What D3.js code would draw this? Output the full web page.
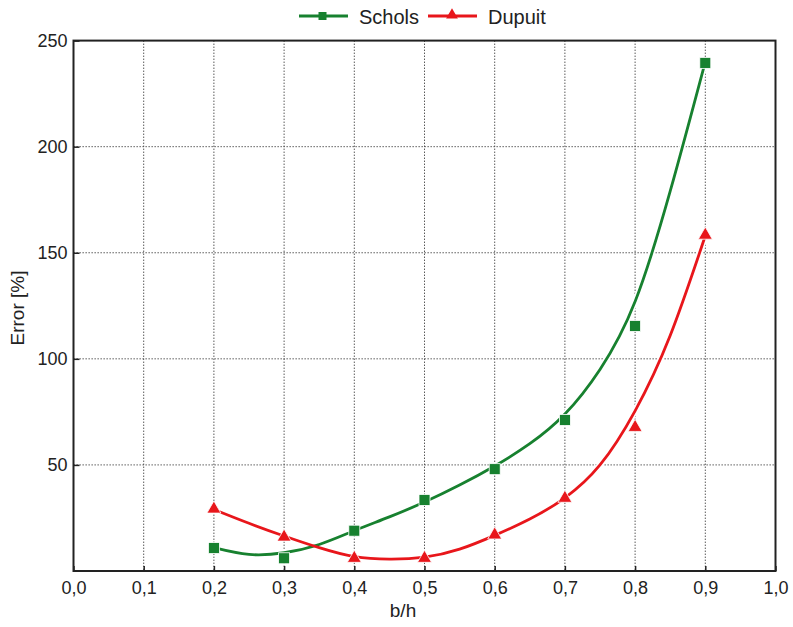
<!DOCTYPE html>
<html>
<head>
<meta charset="utf-8">
<script src="https://cdn.jsdelivr.net/npm/d3@7"></script>
<style>
  html, body { margin: 0; padding: 0; background: #fff; }
  text { font-family: "Liberation Sans", Arial, sans-serif; fill: #222; }
</style>
</head>
<body>
<svg id="chart" width="793" height="627"></svg>
<script>
// ---- data ----
const xValues = [0.2, 0.3, 0.4, 0.5, 0.6, 0.7, 0.8, 0.9];
const scholsValues = [10.8, 6.0, 19.0, 33.5, 48.0, 71.2, 115.5, 239.5];
const dupuitValues = [29.2, 16.0, 6.0, 6.0, 17.0, 34.3, 67.7, 158.3];

// fitted curves drawn in the chart
const curveX = [0.2, 0.25, 0.3, 0.35, 0.4, 0.45, 0.5, 0.55, 0.6, 0.65, 0.7, 0.75, 0.8, 0.85, 0.9];
const scholsCurve = [11, 7.8, 8.6, 12.5, 19, 25.5, 32.5, 40.5, 49.5, 60, 74, 95, 127, 179, 240];
const dupuitCurve = [29, 22.5, 16.5, 11, 6.8, 5.6, 6.5, 10.3, 16.8, 24.5, 34.5, 50, 75.5, 111, 158];

const xTicks = [0, 0.1, 0.2, 0.3, 0.4, 0.5, 0.6, 0.7, 0.8, 0.9, 1.0];
const yTicks = [50, 100, 150, 200, 250];
const seriesNames = ["Schols", "Dupuit"];

const GREEN = "#17812f";
const RED = "#e8161b";

const svg = d3.select("#chart");
const pLeft = 73.5, pRight = 775.5, pTop = 40.6, pBottom = 571;

const x = d3.scaleLinear().domain([0, 1]).range([pLeft, pRight]);
const y = d3.scaleLinear().domain([0, 250]).range([pBottom, pTop]);

const fmt = d => d3.format(".1f")(d).replace(".", ",");

// gridlines
const grid = svg.append("g");
grid.selectAll("line.vx").data(xTicks.filter(d => d > 0 && d < 1)).enter().append("line")
  .attr("x1", d => x(d)).attr("x2", d => x(d)).attr("y1", pTop).attr("y2", pBottom)
  .attr("stroke", "#444").attr("stroke-width", 1).attr("stroke-dasharray", "1.3,1.7");
grid.selectAll("line.hy").data(yTicks.filter(d => d < 250)).enter().append("line")
  .attr("x1", pLeft).attr("x2", pRight).attr("y1", d => y(d)).attr("y2", d => y(d))
  .attr("stroke", "#444").attr("stroke-width", 1).attr("stroke-dasharray", "1.3,1.7");

// axes
const xAxis = d3.axisBottom(x).tickValues(xTicks).tickFormat(fmt).tickSizeInner(-5).tickSizeOuter(0).tickPadding(10);
const yAxis = d3.axisLeft(y).tickValues(yTicks).tickSizeInner(-6).tickSizeOuter(0).tickPadding(6);

const gx = svg.append("g").attr("transform", `translate(0,${pBottom})`).call(xAxis);
const gy = svg.append("g").attr("transform", `translate(${pLeft},0)`).call(yAxis);
[gx, gy].forEach(g => {
  g.select(".domain").remove();
  g.selectAll(".tick line").attr("stroke", "#222").attr("stroke-width", 1.5);
  g.selectAll(".tick text").attr("font-size", 18).attr("fill", "#222")
    .style("font-family", "'Liberation Sans', Arial, sans-serif");
});

// frame
svg.append("rect").attr("x", pLeft).attr("y", pTop).attr("width", pRight - pLeft).attr("height", pBottom - pTop)
  .attr("fill", "none").attr("stroke", "#222").attr("stroke-width", 2);

// curves
const line = d3.line().x(d => x(d[0])).y(d => y(d[1])).curve(d3.curveNatural);
const sPts = curveX.map((v, i) => [v, scholsCurve[i]]);
const dPts = curveX.map((v, i) => [v, dupuitCurve[i]]);

[[sPts, GREEN], [dPts, RED]].forEach(([pts, c]) => {
  svg.append("path").attr("d", line(pts)).attr("fill", "none").attr("stroke", "#fff").attr("stroke-width", 6);
});
[[sPts, GREEN], [dPts, RED]].forEach(([pts, c]) => {
  svg.append("path").attr("d", line(pts)).attr("fill", "none").attr("stroke", c).attr("stroke-width", 2.8);
});

// markers
const sq = 11;
svg.append("g").selectAll("rect").data(xValues.map((v, i) => [v, scholsValues[i]])).enter().append("rect")
  .attr("x", d => x(d[0]) - sq / 2).attr("y", d => y(d[1]) - sq / 2)
  .attr("width", sq).attr("height", sq).attr("fill", GREEN).attr("stroke", "#fff").attr("stroke-width", 0.8);

const tri = d3.symbol().type(d3.symbolTriangle).size(85);
svg.append("g").selectAll("path").data(xValues.map((v, i) => [v, dupuitValues[i]])).enter().append("path")
  .attr("d", tri).attr("transform", d => `translate(${x(d[0])},${y(d[1])})`)
  .attr("fill", RED).attr("stroke", "#fff").attr("stroke-width", 0.8);

// axis titles
svg.append("text").attr("x", 403).attr("y", 617).attr("text-anchor", "middle").attr("font-size", 19).text("b/h");
svg.append("text").attr("transform", "translate(24,308) rotate(-90)").attr("text-anchor", "middle")
  .attr("font-size", 19).text("Error [%]");

// legend
const leg = svg.append("g");
const legItems = [
  { name: seriesNames[0], color: GREEN, x0: 299, type: "square" },
  { name: seriesNames[1], color: RED, x0: 428, type: "triangle" }
];
legItems.forEach(it => {
  leg.append("line").attr("x1", it.x0).attr("x2", it.x0 + 49).attr("y1", 16).attr("y2", 16)
    .attr("stroke", it.color).attr("stroke-width", 2.8);
  if (it.type === "square") {
    leg.append("rect").attr("x", it.x0 + 23.5 - 4).attr("y", 12).attr("width", 8).attr("height", 8).attr("fill", it.color);
  } else {
    leg.append("path").attr("d", d3.symbol().type(d3.symbolTriangle).size(60))
      .attr("transform", `translate(${it.x0 + 24},15)`).attr("fill", it.color);
  }
  leg.append("text").attr("x", it.x0 + 60).attr("y", 23.5).attr("font-size", 20).text(it.name);
});
</script>
</body>
</html>
